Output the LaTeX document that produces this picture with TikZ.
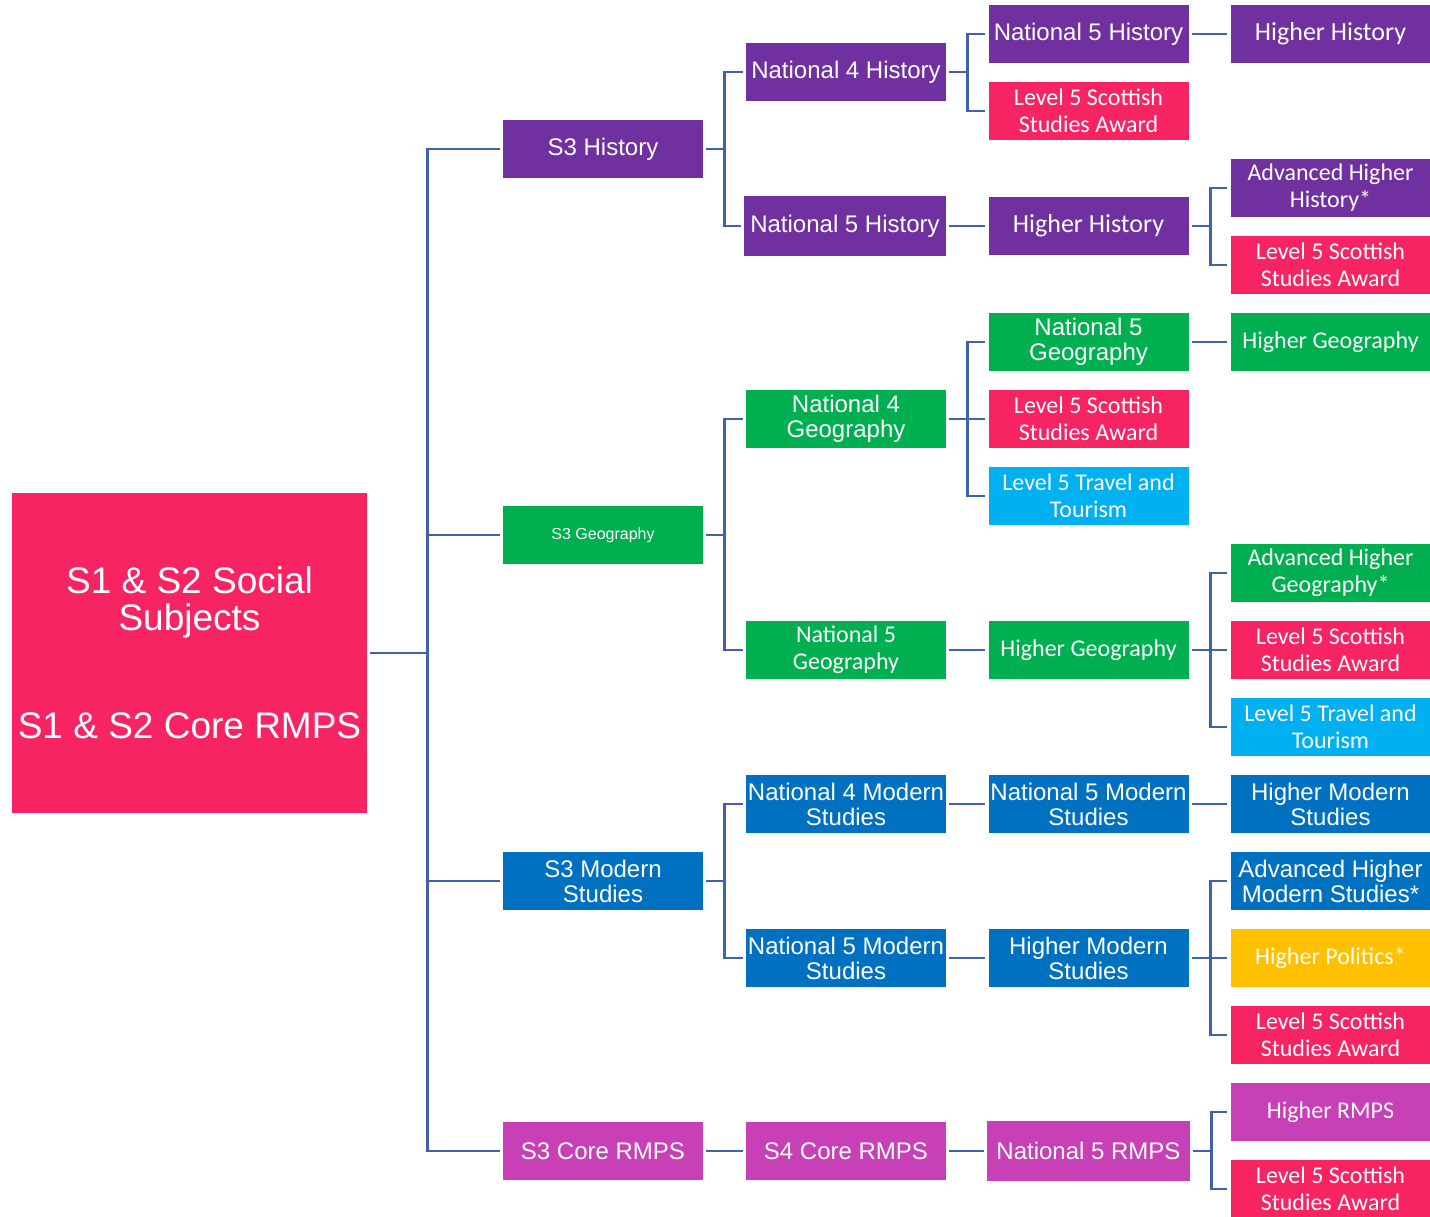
\documentclass[tikz,border=0pt]{standalone}
\definecolor{ss_hist}{RGB}{112, 48, 160}
\definecolor{ss_geog}{RGB}{0, 176, 80}
\definecolor{ss_mods}{RGB}{0, 112, 192}
\definecolor{ss_rmps}{RGB}{200, 64, 182}
\definecolor{ss_award}{RGB}{247, 36, 100}
\definecolor{ss_travel}{RGB}{0, 176, 240}
\definecolor{ss_politics}{RGB}{255, 192, 0}
\definecolor{ss_line}{RGB}{64, 98, 172}
\usepackage{fontspec}
\setmainfont{Liberation Sans}
\newfontfamily\calibri{Carlito}
\usepackage{tikz}
\usetikzlibrary{positioning}

\begin{document}
\begin{tikzpicture}[x=1pt, y=-1pt,
    box/.style={rectangle, minimum width=200pt, minimum height=58pt,
                inner sep=0pt, text=white, align=center},
    ar/.style={font=\fontsize{24}{25}\selectfont},
    cb/.style={font=\calibri\fontsize{24}{27}\selectfont},
    link/.style={draw=ss_line, line width=2.8pt,
                 shorten <=3pt, shorten >=3pt},
  ]
  \useasboundingbox (0,0) rectangle (1430,1217);

  % root
  \node[box, fill=ss_award, minimum width=355pt, minimum height=320pt,
        font=\fontsize{37}{37}\selectfont] (root) at (189.5,653)
    {S1 \& S2 Social\\Subjects\\[71pt]S1 \& S2 Core RMPS};

  % S3
  \node[box, ar, fill=ss_hist] (s3hist) at (603,149) {S3 History};
  \node[box, fill=ss_geog, font=\fontsize{16}{18}\selectfont] (s3geog) at (603,535) {S3 Geography};
  \node[box, ar, fill=ss_mods] (s3mods) at (603,881) {S3 Modern\\Studies};
  \node[box, ar, fill=ss_rmps] (s3rmps) at (603,1151) {S3 Core RMPS};

  % second column
  \node[box, ar, fill=ss_hist] (n4hist) at (846,72) {National 4 History};
  \node[box, ar, fill=ss_hist, minimum width=202pt, minimum height=60pt] (n5hist) at (845,226) {National 5 History};
  \node[box, ar, fill=ss_geog] (n4geog) at (846,419) {National 4\\Geography};
  \node[box, cb, fill=ss_geog] (n5geog) at (846,650) {National 5\\Geography};
  \node[box, ar, fill=ss_mods] (n4mods) at (846,804) {National 4 Modern\\Studies};
  \node[box, ar, fill=ss_mods] (n5mods) at (846,958) {National 5 Modern\\Studies};
  \node[box, ar, fill=ss_rmps] (s4rmps) at (846,1151) {S4 Core RMPS};

  % third column
  \node[box, ar, fill=ss_hist] (n5histb) at (1088.5,34) {National 5 History};
  \node[box, cb, fill=ss_award] (awardh1) at (1088.5,111) {Level 5 Scottish\\Studies Award};
  \node[box, cb, fill=ss_hist, font=\calibri\fontsize{26}{27}\selectfont] (highhist) at (1088.5,226) {Higher History};
  \node[box, ar, fill=ss_geog] (n5geogb) at (1088.5,342) {National 5\\Geography};
  \node[box, cb, fill=ss_award] (awardg1) at (1088.5,419) {Level 5 Scottish\\Studies Award};
  \node[box, cb, fill=ss_travel] (travelg1) at (1088.5,496) {Level 5 Travel and\\Tourism};
  \node[box, cb, fill=ss_geog] (highgeog) at (1088.5,650) {Higher Geography};
  \node[box, ar, fill=ss_mods] (n5modsb) at (1088.5,804) {National 5 Modern\\Studies};
  \node[box, ar, fill=ss_mods] (highmods) at (1088.5,958) {Higher Modern\\Studies};
  \node[box, ar, fill=ss_rmps, minimum width=203pt, minimum height=60pt] (n5rmps) at (1088.5,1151) {National 5 RMPS};

  % fourth column
  \node[box, cb, fill=ss_hist, font=\calibri\fontsize{26}{27}\selectfont] (highhistb) at (1330.5,34) {Higher History};
  \node[box, cb, fill=ss_hist] (ahhist) at (1330.5,188) {Advanced Higher\\History*};
  \node[box, cb, fill=ss_award] (awardh2) at (1330.5,265) {Level 5 Scottish\\Studies Award};
  \node[box, cb, fill=ss_geog] (highgeogb) at (1330.5,342) {Higher Geography};
  \node[box, cb, fill=ss_geog] (ahgeog) at (1330.5,573) {Advanced Higher\\Geography*};
  \node[box, cb, fill=ss_award] (awardg2) at (1330.5,650) {Level 5 Scottish\\Studies Award};
  \node[box, cb, fill=ss_travel] (travelg2) at (1330.5,727) {Level 5 Travel and\\Tourism};
  \node[box, ar, fill=ss_mods] (highmodsb) at (1330.5,804) {Higher Modern\\Studies};
  \node[box, ar, fill=ss_mods] (ahmods) at (1330.5,881) {Advanced Higher\\Modern Studies*};
  \node[box, cb, fill=ss_politics] (politics) at (1330.5,958) {Higher Politics*};
  \node[box, cb, fill=ss_award] (awardm) at (1330.5,1035) {Level 5 Scottish\\Studies Award};
  \node[box, cb, fill=ss_rmps] (highrmps) at (1330.5,1112) {Higher RMPS};
  \node[box, cb, fill=ss_award] (awardr) at (1330.5,1189) {Level 5 Scottish\\Studies Award};

  % root to S3
  \foreach \b in {s3hist, s3geog, s3mods, s3rmps}
    \draw[link] (root.east) -- ++(60,0) |- (\b.west);

  % S3 to second column
  \foreach \a/\b in {s3hist/n4hist, s3hist/n5hist, s3geog/n4geog, s3geog/n5geog,
                     s3mods/n4mods, s3mods/n5mods, s3rmps/s4rmps}
    \draw[link] (\a.east) -- ++(21.5,0) |- (\b.west);

  % second to third column
  \foreach \a/\b in {n4hist/n5histb, n4hist/awardh1, n5hist/highhist,
                     n4geog/n5geogb, n4geog/awardg1, n4geog/travelg1, n5geog/highgeog,
                     n4mods/n5modsb, n5mods/highmods, s4rmps/n5rmps}
    \draw[link] (\a.east) -- ++(21.5,0) |- (\b.west);

  % third to fourth column
  \foreach \a/\b in {n5histb/highhistb, highhist/ahhist, highhist/awardh2,
                     n5geogb/highgeogb, highgeog/ahgeog, highgeog/awardg2, highgeog/travelg2,
                     n5modsb/highmodsb, highmods/ahmods, highmods/politics, highmods/awardm,
                     n5rmps/highrmps, n5rmps/awardr}
    \draw[link] (\a.east) -- ++(21.5,0) |- (\b.west);
\end{tikzpicture}
\end{document}
